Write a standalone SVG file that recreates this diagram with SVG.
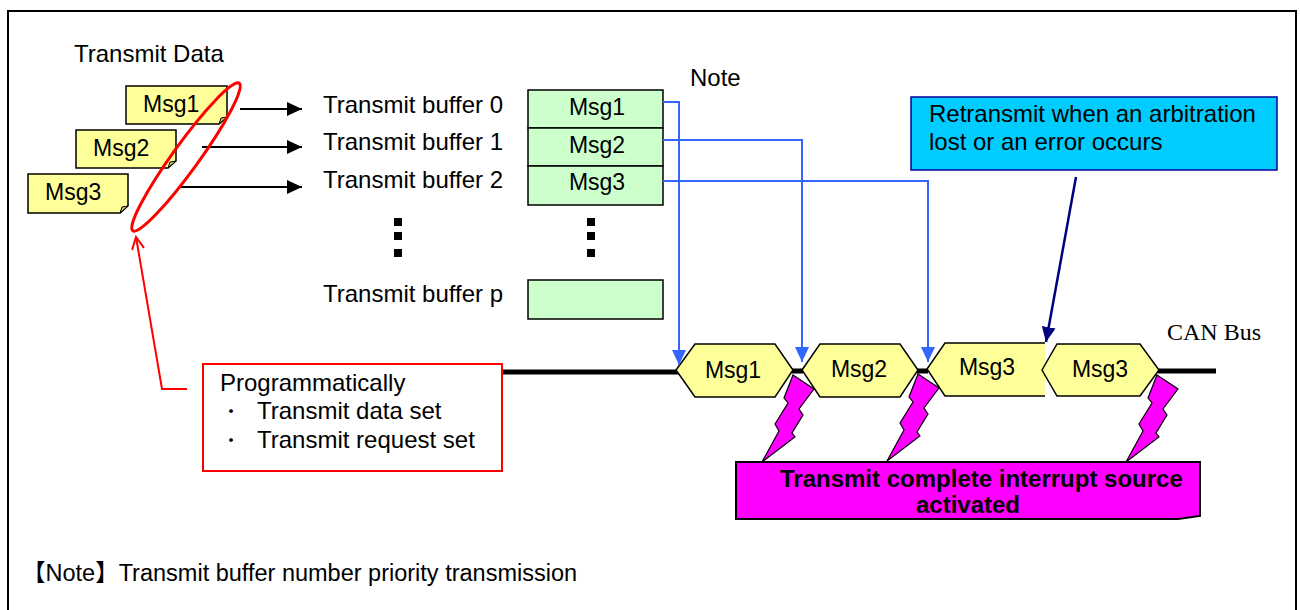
<svg xmlns="http://www.w3.org/2000/svg" width="1300" height="610" viewBox="0 0 1300 610">
<style>
text{font-family:"Liberation Sans",Arial,sans-serif;font-size:24px;fill:#000}
.m{font-size:23px}
.c{text-anchor:middle}
.bul{font-family:"Noto Sans CJK JP",sans-serif;font-size:18px}
.note{fill:#FFFF99;stroke:#000;stroke-width:1.5}
.fold{fill:#C8C878;stroke:#000;stroke-width:1}
.buf{fill:#CCFFCC;stroke:#000;stroke-width:1.5}
.hex{fill:#FFFF99;stroke:#000;stroke-width:1.5}
.bus{stroke:#000;stroke-width:5;fill:none}
.blue{stroke:#3366FF;stroke-width:2;fill:none}
.blk{stroke:#000;stroke-width:2;fill:none}
.bolt{fill:#FF00FF;stroke:#000;stroke-width:1.2}
</style>
<defs>
<marker id="ab" markerUnits="userSpaceOnUse" markerWidth="16" markerHeight="14" refX="15" refY="7" orient="auto"><path d="M0,0 L15,7 L0,14 Z" fill="#000"/></marker>
<marker id="abl" markerUnits="userSpaceOnUse" markerWidth="16" markerHeight="14" refX="15" refY="7" orient="auto"><path d="M0,0 L15,7 L0,14 Z" fill="#3366FF"/></marker>
<marker id="anv" markerUnits="userSpaceOnUse" markerWidth="16" markerHeight="14" refX="15" refY="7" orient="auto"><path d="M0,0 L15,7 L0,14 Z" fill="#000080"/></marker>
<marker id="ard" markerUnits="userSpaceOnUse" markerWidth="16" markerHeight="16" refX="14" refY="8" orient="auto-start-reverse"><path d="M2,2 L14,8 L2,14" fill="none" stroke="#FF0000" stroke-width="2"/></marker>
<path id="bolt" d="M0,0 L21,14 L6,34 L10,40 L-1,58 L2,62 L-31,87 L-14,56 L-18,49 L-5,28 L-9,23 Z"/>
</defs>

<path d="M8,620 V11 H1296 V620" fill="none" stroke="#000" stroke-width="2"/>

<text x="74" y="62">Transmit Data</text>

<g id="note-msg1">
<path class="note" d="M126,86 H227 V117 L219,124 H126 Z"/>
<path class="fold" d="M219,124 L221,118 L227,117 Z"/>
<text class="m" x="143" y="112">Msg1</text>
</g>
<g id="note-msg2">
<path class="note" d="M76,130 H176 V161 L168,168 H76 Z"/>
<path class="fold" d="M168,168 L170,162 L176,161 Z"/>
<text class="m" x="93" y="156">Msg2</text>
</g>
<g id="note-msg3">
<path class="note" d="M28,174 H128 V206 L120,213 H28 Z"/>
<path class="fold" d="M120,213 L122,207 L128,206 Z"/>
<text class="m" x="45" y="200">Msg3</text>
</g>

<g id="buffer-labels">
<text x="323" y="113">Transmit buffer 0</text>
<text x="323" y="150">Transmit buffer 1</text>
<text x="323" y="188">Transmit buffer 2</text>
<text x="323" y="302">Transmit buffer p</text>
<rect x="394" y="218" width="8" height="8"/><rect x="394" y="232" width="8" height="8"/><rect x="394" y="249" width="8" height="8"/>
</g>

<g id="buffers">
<rect class="buf" x="528" y="90" width="135" height="38"/>
<rect class="buf" x="528" y="128" width="135" height="38"/>
<rect class="buf" x="528" y="166" width="135" height="39"/>
<rect class="buf" x="528" y="280" width="135" height="39"/>
<text class="c m" x="597" y="115">Msg1</text>
<text class="c m" x="597" y="153">Msg2</text>
<text class="c m" x="597" y="190">Msg3</text>
<rect x="587" y="218" width="8" height="8"/><rect x="587" y="232" width="8" height="8"/><rect x="587" y="249" width="8" height="8"/>
</g>

<text x="690" y="86">Note</text>

<g id="callout">
<rect x="911" y="97" width="366" height="73" fill="#00CCFF" stroke="#000099" stroke-width="1.5"/>
<text x="929" y="122">Retransmit when an arbitration</text>
<text x="929" y="150">lost or an error occurs</text>
</g>

<text x="1167" y="340" style="font-family:'Liberation Serif','Times New Roman',serif;font-size:24px">CAN Bus</text>

<g id="bus">
<path class="bus" d="M502,372 H680 M792,371 H803 M917,371 H928 M1158,371 H1216"/>
<polygon class="hex" points="676,370 695,344 775,344 793,370 775,397 695,397"/>
<polygon class="hex" points="802,370 820,344 900,344 918,370 900,397 820,397"/>
<path class="hex" d="M1045,343 H945 L927,369 L945,396 H1045"/>
<polygon class="hex" points="1042,370 1057,344 1140,344 1159,370 1140,396 1057,396"/>
<text class="c m" x="733" y="378">Msg1</text>
<text class="c m" x="859" y="377">Msg2</text>
<text class="c m" x="987" y="375">Msg3</text>
<text class="c m" x="1100" y="377">Msg3</text>
</g>

<g id="interrupt">
<path d="M736,462 H1200 V516 L1178,519 H736 Z" fill="#FF00FF" stroke="#000" stroke-width="2"/>
<text x="780" y="487" style="font-weight:bold">Transmit complete interrupt source</text>
<text class="c" x="968" y="513" style="font-weight:bold">activated</text>
</g>

<g id="bolts">
<use href="#bolt" class="bolt" transform="translate(793,375)"/>
<use href="#bolt" class="bolt" transform="translate(918,374)"/>
<use href="#bolt" class="bolt" transform="translate(1157,375)"/>
</g>

<g id="program-box">
<rect x="203" y="364" width="299" height="107" fill="#fff" stroke="#FF0000" stroke-width="2"/>
<text x="220" y="391">Programmatically</text>
<text class="bul" x="222" y="418">・</text>
<text x="257" y="419">Transmit data set</text>
<text class="bul" x="222" y="447">・</text>
<text x="257" y="448">Transmit request set</text>
</g>

<g id="connectors">
<path class="blk" d="M240,109 H302" marker-end="url(#ab)"/>
<path class="blk" d="M202,147 H302" marker-end="url(#ab)"/>
<path class="blk" d="M178,187 H302" marker-end="url(#ab)"/>
<ellipse cx="186" cy="157" rx="91" ry="13" fill="none" stroke="#FF0000" stroke-width="3" transform="rotate(-54.2 186 157)"/>
<path d="M136,237 L162,389 H187" fill="none" stroke="#FF0000" stroke-width="2" marker-start="url(#ard)"/>
<path class="blue" d="M663,102 H679 V365" marker-end="url(#abl)"/>
<path class="blue" d="M663,140 H802 V362" marker-end="url(#abl)"/>
<path class="blue" d="M663,181 H928 V362" marker-end="url(#abl)"/>
<path d="M1076,177 L1046,342" stroke="#000080" stroke-width="2.5" fill="none" marker-end="url(#anv)"/>
</g>

<text x="22" y="581" style="font-size:23.5px;font-family:'Liberation Sans','Noto Sans CJK JP',sans-serif">【Note】Transmit buffer number priority transmission</text>
</svg>
